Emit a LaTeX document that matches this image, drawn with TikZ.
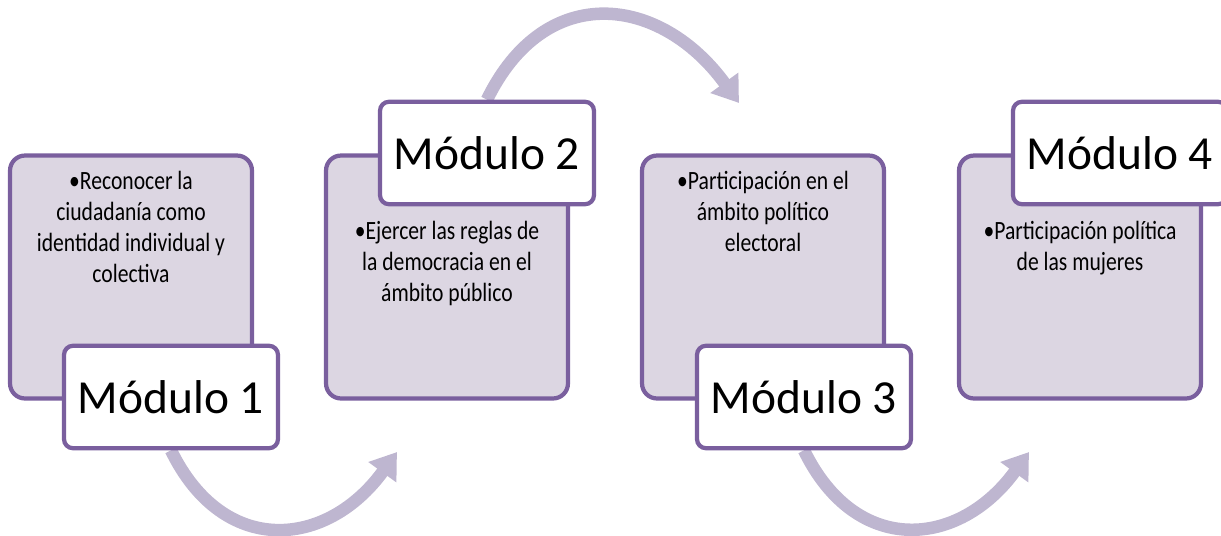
\documentclass[tikz,border=0pt]{standalone}
\usepackage{fontspec}
\setmainfont{Carlito}
\newfontfamily\narrowfont[FakeStretch=0.82]{Carlito}
\usetikzlibrary{arrows.meta,positioning,backgrounds}
\definecolor{boxfill}{RGB}{220,214,226}
\definecolor{boxline}{RGB}{122,95,158}
\definecolor{flow}{RGB}{190,182,208}
\tikzset{
    x=0.02cm, y=-0.02cm,
    area/.style = {rectangle, rounded corners=0.3cm, draw=boxline, line width=2.4pt,
                   fill=boxfill, minimum width=4.84cm, minimum height=4.86cm},
    modname/.style = {rectangle, rounded corners=0.18cm, draw=boxline, line width=2.4pt,
                      fill=white, minimum width=4.28cm, minimum height=2.05cm,
                      font=\fontsize{27}{30}\selectfont},
    aim/.style = {align=center, inner sep=0pt, font=\narrowfont\fontsize{15}{17.8}\selectfont},
    flowarrow/.style = {draw=flow, line width=0.25cm,
                        -{Triangle[width=0.66cm,length=0.5cm]}}
}
\begin{document}
\begin{tikzpicture}
    \useasboundingbox (0,0) rectangle (1221,535);

    % areas
    \node[area] (b1) at (131,277) {};
    \node[area] (b2) at (447,277) {};
    \node[area] (b3) at (763,277) {};
    \node[area] (b4) at (1080,277) {};

    % texts
    \node[aim, anchor=north, below=0.34cm of b1.north] (t1)
        {•Reconocer la\\ciudadanía como\\identidad individual y\\colectiva};
    \node[aim, anchor=north, below=1.34cm of b2.north] (t2)
        {•Ejercer las reglas de\\la democracia en el\\ámbito público};
    \node[aim, anchor=north, below=0.34cm of b3.north] (t3)
        {•Participación en el\\ámbito político\\electoral};
    \node[aim, anchor=north, below=1.34cm of b4.north] (t4)
        {•Participación política\\de las mujeres};

    % module names
    \node[modname] (m1) at (171,397) {Módulo 1};
    \node[modname] (m2) at (487,153) {Módulo 2};
    \node[modname] (m3) at (804,397) {Módulo 3};
    \node[modname] (m4) at (1120,153) {Módulo 4};

    % arrow ends
    \coordinate (e1) at (397,452);
    \coordinate (e2) at (739,103);
    \coordinate (e3) at (1029,452);

    \begin{scope}[on background layer]
        \draw[flowarrow] (m1.south) to[out=-64,in=-126,looseness=1.35] (e1);
        \draw[flowarrow] (m2.north) to[out=64,in=126,looseness=1.35] (e2);
        \draw[flowarrow] (m3.south) to[out=-64,in=-126,looseness=1.35] (e3);
    \end{scope}
\end{tikzpicture}
\end{document}
